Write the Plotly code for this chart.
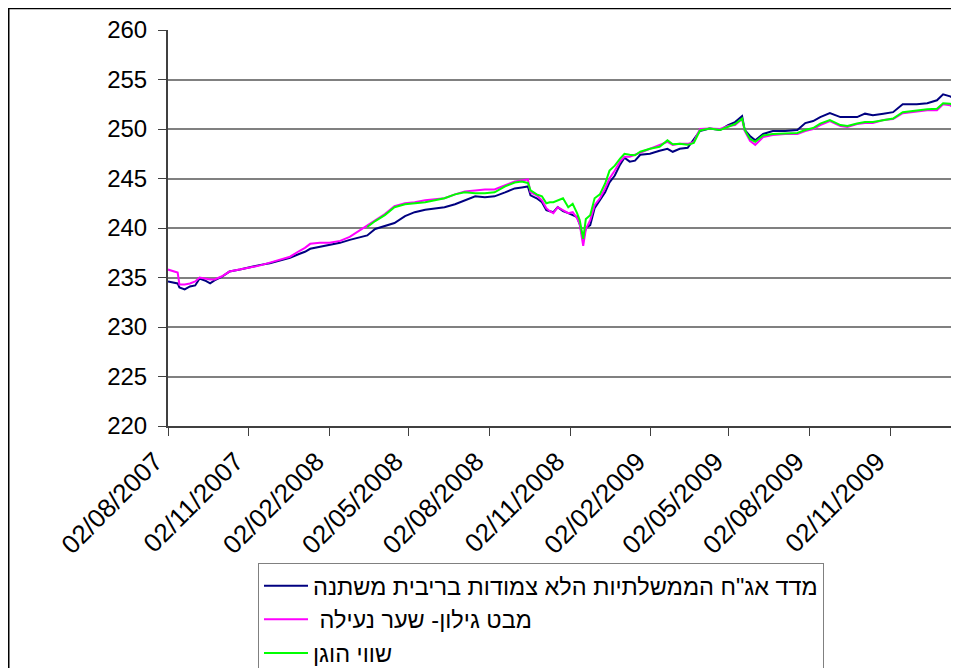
import plotly.graph_objects as go

# ---- data ----
dates = [
    "2007-08-02", "2007-08-08", "2007-08-13", "2007-08-15", "2007-08-21", "2007-08-27",
    "2007-09-02", "2007-09-07", "2007-09-13", "2007-09-19", "2007-09-24", "2007-10-02",
    "2007-10-11", "2007-10-23", "2007-11-03", "2007-11-14", "2007-11-26", "2007-12-07",
    "2007-12-19", "2007-12-30", "2008-01-05", "2008-01-11", "2008-01-22", "2008-02-02",
    "2008-02-14", "2008-02-25", "2008-03-08", "2008-03-16", "2008-03-25", "2008-04-05",
    "2008-04-16", "2008-04-28", "2008-05-09", "2008-05-21", "2008-06-01", "2008-06-12",
    "2008-06-24", "2008-07-05", "2008-07-17", "2008-07-28", "2008-08-08", "2008-08-20",
    "2008-08-31", "2008-09-08", "2008-09-15", "2008-09-18", "2008-09-25", "2008-10-01",
    "2008-10-06", "2008-10-10", "2008-10-14", "2008-10-19", "2008-10-25", "2008-10-31",
    "2008-11-05", "2008-11-10", "2008-11-13", "2008-11-17", "2008-11-20", "2008-11-25",
    "2008-11-30", "2008-12-06", "2008-12-12", "2008-12-17", "2008-12-23", "2008-12-29",
    "2009-01-03", "2009-01-09", "2009-01-15", "2009-01-21", "2009-02-01", "2009-02-12",
    "2009-02-21", "2009-02-27", "2009-03-07", "2009-03-16", "2009-03-23", "2009-03-30",
    "2009-04-10", "2009-04-22", "2009-05-01", "2009-05-09", "2009-05-17", "2009-05-20",
    "2009-05-26", "2009-06-01", "2009-06-10", "2009-06-21", "2009-07-05", "2009-07-19",
    "2009-07-28", "2009-08-06", "2009-08-14", "2009-08-25", "2009-09-06", "2009-09-14",
    "2009-09-25", "2009-10-04", "2009-10-13", "2009-10-25", "2009-11-05", "2009-11-16",
    "2009-12-02", "2009-12-14", "2009-12-25", "2010-01-01", "2010-01-09", "2010-01-18",
]

index_values = [
    234.6, 234.5, 234.4, 234.0, 233.8, 234.1, 234.2, 234.9, 234.7, 234.4, 234.7, 235.05,
    235.6, 235.8, 236.05, 236.25, 236.45, 236.75, 237.0, 237.4, 237.6, 237.9, 238.1, 238.25,
    238.5, 238.8, 239.1, 239.25, 239.9, 240.2, 240.5, 241.2, 241.6, 241.85, 242.0, 242.1,
    242.4, 242.8, 243.2, 243.1, 243.2, 243.6, 244.0, 244.1, 244.2, 243.3, 243.0, 242.6,
    241.8, 241.7, 241.6, 242.1, 241.7, 241.5, 241.3, 241.1, 240.4, 238.8, 240.0, 240.3,
    242.0, 242.8, 243.6, 244.6, 245.3, 246.4, 247.1, 246.7, 246.8, 247.4, 247.5, 247.8,
    248.0, 247.7, 248.0, 248.1, 249.0, 249.8, 250.05, 249.9, 250.4, 250.7, 251.3, 249.9,
    249.3, 248.85, 249.5, 249.8, 249.8, 249.9, 250.6, 250.8, 251.2, 251.6, 251.2, 251.2,
    251.2, 251.55, 251.4, 251.55, 251.7, 252.5, 252.5, 252.6, 252.9, 253.5, 253.3, 252.85,
]

closing_values = [
    235.8, 235.6, 235.5, 234.3, 234.3, 234.4, 234.6, 235.0, 234.9, 234.8, 234.8, 235.1,
    235.6, 235.8, 236.0, 236.2, 236.5, 236.8, 237.1, 237.7, 238.0, 238.4, 238.5, 238.5,
    238.7, 239.1, 239.8, 240.2, 240.8, 241.4, 242.2, 242.5, 242.6, 242.8, 242.9, 243.0,
    243.4, 243.7, 243.8, 243.9, 243.9, 244.3, 244.7, 244.8, 244.9, 243.6, 243.3, 242.8,
    242.0, 241.7, 241.5, 242.1, 241.8, 241.5, 241.6, 241.0, 240.4, 238.2, 239.9, 240.8,
    242.3, 243.0, 244.0, 245.0, 245.8, 246.7, 247.2, 247.2, 247.4, 247.6, 248.0, 248.4,
    248.7, 248.4, 248.5, 248.5, 248.7, 250.0, 250.05, 250.0, 250.3, 250.4, 251.0, 249.8,
    248.8, 248.4, 249.2, 249.4, 249.5, 249.5, 249.8, 250.0, 250.4, 250.8, 250.3, 250.2,
    250.5, 250.6, 250.6, 250.9, 251.0, 251.6, 251.8, 251.9, 251.9, 252.5, 252.4, 251.8,
]

# fair value series starts later (from 2008-03-16)
fair_start = 27
fair_values = [
    240.1, 240.7, 241.3, 242.1, 242.4, 242.5, 242.6, 242.8, 243.0,
    243.4, 243.6, 243.5, 243.5, 243.6, 244.2, 244.6, 244.7, 244.55, 243.8, 243.4, 243.2,
    242.5, 242.6, 242.6, 242.8, 243.0, 242.1, 242.45, 241.5, 240.8, 238.9, 240.9, 241.3,
    243.0, 243.4, 244.5, 245.8, 246.3, 247.0, 247.5, 247.4, 247.35, 247.7, 248.0, 248.2,
    248.85, 248.45, 248.5, 248.4, 248.6, 249.85, 250.05, 249.9, 250.2, 250.5, 251.05, 249.9,
    249.0, 248.7, 249.35, 249.5, 249.55, 249.6, 249.9, 250.1, 250.55, 250.9, 250.4, 250.3,
    250.55, 250.7, 250.7, 250.9, 251.05, 251.7, 251.9, 252.0, 252.05, 252.6, 252.55, 252.05,
]

series_names = [
    'מדד אג"ח הממשלתיות הלא צמודות בריבית משתנה',
    ' מבט גילון- שער נעילה',
    'שווי הוגן',
]
series_colors = ["#000080", "#FF00FF", "#00FF00"]

tick_vals = ["2007-08-02", "2007-11-02", "2008-02-02", "2008-05-02", "2008-08-02",
             "2008-11-02", "2009-02-02", "2009-05-02", "2009-08-02", "2009-11-02"]
tick_text = ["02/08/2007", "02/11/2007", "02/02/2008", "02/05/2008", "02/08/2008",
             "02/11/2008", "02/02/2009", "02/05/2009", "02/08/2009", "02/11/2009"]

FONT = "Arial, Liberation Sans, sans-serif"

fig = go.Figure()
for i, (xs, ys) in enumerate([(dates, index_values),
                              (dates, closing_values),
                              (dates[fair_start:], fair_values)]):
    fig.add_trace(go.Scatter(x=xs, y=ys, mode="lines", name=series_names[i],
                             line=dict(color=series_colors[i], width=2)))

# page body has an 8px margin; figure width fits the 943px body,
# height is taller than the window so the legend is fully inside the figure
W, H = 943, 700
L, T, R = 160, 22, 0
B = H - 418
PW, PH = W - L - R, H - T - B

fig.update_layout(
    width=W, height=H,
    margin=dict(l=L, r=R, t=T, b=B),
    paper_bgcolor="white", plot_bgcolor="white",
    font=dict(family=FONT, color="black"),
    showlegend=True,
    legend=dict(
        x=(250 - L) / PW, y=(PH - (555 - T)) / PH, xanchor="left", yanchor="top",
        bordercolor="#808080", borderwidth=1, bgcolor="white",
        font=dict(family=FONT, size=23.5, color="black"),
        traceorder="normal", tracegroupgap=0, itemwidth=44,
    ),
    xaxis=dict(
        type="date", range=["2007-08-02", "2010-01-10"],
        tickvals=tick_vals, ticktext=tick_text, tickangle=-45,
        tickfont=dict(family=FONT, size=26, color="black"),
        ticklabelshift=-13,
        showgrid=False, zeroline=False,
        showline=True, linecolor="#404040", linewidth=2,
        ticks="outside", ticklen=8, tickcolor="#404040", tickwidth=1,
    ),
    yaxis=dict(
        range=[220, 260], dtick=5, tick0=220,
        tickfont=dict(family=FONT, size=24, color="black"),
        showgrid=True, gridcolor="#808080", gridwidth=1.5,
        zeroline=False,
        showline=True, linecolor="#404040", linewidth=2,
        ticks="outside", ticklen=8, tickcolor="#404040", tickwidth=1,
        ticklabelstandoff=6,
    ),
    shapes=[dict(type="rect", xref="paper", yref="paper",
                 x0=(0.75 - L) / PW, x1=1.05, y0=-1.0, y1=(PH + T - 0.5) / PH,
                 line=dict(color="black", width=1.5), fillcolor="rgba(0,0,0,0)", layer="below")],
)

fig.write_html("out.html")
